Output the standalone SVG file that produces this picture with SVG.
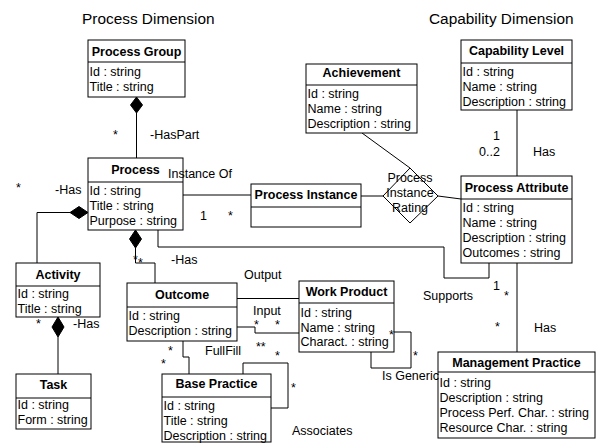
<svg xmlns="http://www.w3.org/2000/svg" width="596" height="443" viewBox="0 0 596 443">
<style>
text{font-family:"Liberation Sans",Arial,sans-serif;font-size:12.5px;fill:#000}
.h{font-size:15.4px}
.t{font-weight:bold;text-anchor:middle}
.c{text-anchor:middle}
.box{fill:#fff;stroke:#000;stroke-width:1}
.ln{fill:none;stroke:#000;stroke-width:1}
.dm{fill:#000;stroke:#000;stroke-width:1}
</style>
<rect width="596" height="443" fill="#fff"/>
<text class="h" x="82" y="23.5">Process Dimension</text>
<text class="h" x="429" y="23.5">Capability Dimension</text>

<g id="connectors">
<path class="ln" d="M136.5,113 V158"/>
<path class="ln" d="M70,212.5 H37 V263"/>
<path class="ln" d="M58,337 V374"/>
<path class="ln" d="M135.5,248 V263 H155 V283"/>
<path class="ln" d="M183,195 H251"/>
<path class="ln" d="M361,196 H383"/>
<path class="ln" d="M362,133 L410,168"/>
<path class="ln" d="M438,196 L461,199"/>
<path class="ln" d="M517,110 V176"/>
<path class="ln" d="M158,230 V247 H444 V278 H489 V263"/>
<path class="ln" d="M517,263 V352"/>
<path class="ln" d="M237,298.5 H299"/>
<path class="ln" d="M237,327 H255 V333 H299"/>
<path class="ln" d="M183,341 V357 H189 V374"/>
<path class="ln" d="M243,374 V363 H288 V408 H271"/>
<path class="ln" d="M394,332 H411 V368 H371 V352"/>
<polygon class="dm" points="136.5,97 142.5,105 136.5,113 130.5,105"/>
<polygon class="dm" points="88,212.5 79,206.5 70,212.5 79,218.5"/>
<polygon class="dm" points="135.5,230 141.5,239 135.5,248 129.5,239"/>
<polygon class="dm" points="58,317 64,327 58,337 52,327"/>
<polygon class="box" points="410,168 438,196 410,223 383,196"/>
</g>

<g id="process-group">
<rect class="box" x="88" y="40" width="97" height="57"/>
<line class="ln" x1="88" y1="62" x2="185" y2="62"/>
<text class="t" x="136.5" y="56">Process Group</text>
<text x="89.5" y="75.5">Id : string</text>
<text x="89.5" y="90.5">Title : string</text>
</g>

<g id="capability-level">
<rect class="box" x="461" y="40" width="111" height="70"/>
<line class="ln" x1="461" y1="63" x2="572" y2="63"/>
<text class="t" x="516.5" y="55">Capability Level</text>
<text x="462.5" y="76">Id : string</text>
<text x="462.5" y="91">Name : string</text>
<text x="462.5" y="106">Description : string</text>
</g>

<g id="achievement">
<rect class="box" x="306" y="64" width="111" height="69"/>
<line class="ln" x1="306" y1="85" x2="417" y2="85"/>
<text class="t" x="361.5" y="77">Achievement</text>
<text x="307.5" y="98">Id : string</text>
<text x="307.5" y="113">Name : string</text>
<text x="307.5" y="128">Description : string</text>
</g>

<g id="process">
<rect class="box" x="88" y="158" width="95" height="72"/>
<line class="ln" x1="88" y1="182" x2="183" y2="182"/>
<text class="t" x="135.5" y="174">Process</text>
<text x="89.5" y="195">Id : string</text>
<text x="89.5" y="210">Title : string</text>
<text x="89.5" y="225">Purpose : string</text>
</g>

<g id="process-instance">
<rect class="box" x="251" y="184" width="110" height="43"/>
<line class="ln" x1="251" y1="207" x2="361" y2="207"/>
<text class="t" x="306" y="199">Process Instance</text>
</g>

<g id="process-attribute">
<rect class="box" x="461" y="176" width="111" height="87"/>
<line class="ln" x1="461" y1="199" x2="572" y2="199"/>
<text class="t" x="516.5" y="192">Process Attribute</text>
<text x="462.5" y="212">Id : string</text>
<text x="462.5" y="227">Name : string</text>
<text x="462.5" y="242">Description : string</text>
<text x="462.5" y="257">Outcomes : string</text>
</g>

<g id="activity">
<rect class="box" x="16" y="263" width="84" height="54"/>
<line class="ln" x1="16" y1="286" x2="100" y2="286"/>
<text class="t" x="58" y="278.5">Activity</text>
<text x="17.5" y="298">Id : string</text>
<text x="17.5" y="312.5">Title : string</text>
</g>

<g id="task">
<rect class="box" x="16" y="374" width="75" height="55"/>
<line class="ln" x1="16" y1="398" x2="91" y2="398"/>
<text class="t" x="53.5" y="389">Task</text>
<text x="17.5" y="409">Id : string</text>
<text x="17.5" y="423.5">Form : string</text>
</g>

<g id="outcome">
<rect class="box" x="127" y="283" width="110" height="58"/>
<line class="ln" x1="127" y1="307" x2="237" y2="307"/>
<text class="t" x="182" y="299">Outcome</text>
<text x="128.5" y="320">Id : string</text>
<text x="128.5" y="335">Description : string</text>
</g>

<g id="work-product">
<rect class="box" x="299" y="281" width="95" height="71"/>
<line class="ln" x1="299" y1="303" x2="394" y2="303"/>
<text class="t" x="346.5" y="296">Work Product</text>
<text x="300.5" y="316.5">Id : string</text>
<text x="300.5" y="331.5">Name : string</text>
<text x="300.5" y="346">Charact. : string</text>
</g>

<g id="base-practice">
<rect class="box" x="162" y="374" width="109" height="68"/>
<line class="ln" x1="162" y1="397" x2="271" y2="397"/>
<text class="t" x="216.5" y="388">Base Practice</text>
<text x="163.5" y="410">Id : string</text>
<text x="163.5" y="425">Title : string</text>
<text x="163.5" y="440">Description : string</text>
</g>

<g id="management-practice">
<rect class="box" x="438" y="352" width="157" height="86"/>
<line class="ln" x1="438" y1="372" x2="595" y2="372"/>
<text class="t" x="516.5" y="367">Management Practice</text>
<text x="439.5" y="386.5">Id : string</text>
<text x="439.5" y="401.5">Description : string</text>
<text x="439.5" y="416.5">Process Perf. Char. : string</text>
<text x="439.5" y="431.5">Resource Char. : string</text>
</g>

<g id="labels">
<text class="c" x="410" y="182">Process</text>
<text class="c" x="410" y="197">Instance</text>
<text class="c" x="410" y="212">Rating</text>
<text x="113" y="139">*</text>
<text x="150" y="139">-HasPart</text>
<text x="168" y="178">Instance Of</text>
<text x="200" y="220">1</text>
<text x="228" y="220">*</text>
<text x="16" y="192">*</text>
<text x="55" y="194">-Has</text>
<text x="133" y="264">*</text>
<text x="138" y="267">*</text>
<text x="171" y="264">-Has</text>
<text x="36" y="328">*</text>
<text x="73" y="328">-Has</text>
<text x="244" y="279">Output</text>
<text x="253" y="315">Input</text>
<text x="254" y="329">*</text>
<text x="275" y="329">*</text>
<text x="256" y="351">**</text>
<text x="275" y="360">*</text>
<text x="205" y="355">FullFill</text>
<text x="168" y="355">*</text>
<text x="161" y="368">*</text>
<text x="291" y="392">*</text>
<text x="292" y="435">Associates</text>
<text x="389" y="339">*</text>
<text x="413" y="360">*</text>
<text x="382" y="380">Is Generic</text>
<text x="423" y="300">Supports</text>
<text x="493" y="290">1</text>
<text x="504" y="300">*</text>
<text x="495" y="331">*</text>
<text x="534" y="331.5">Has</text>
<text x="493" y="140">1</text>
<text x="479" y="156">0..2</text>
<text x="533" y="156">Has</text>
</g>
</svg>
